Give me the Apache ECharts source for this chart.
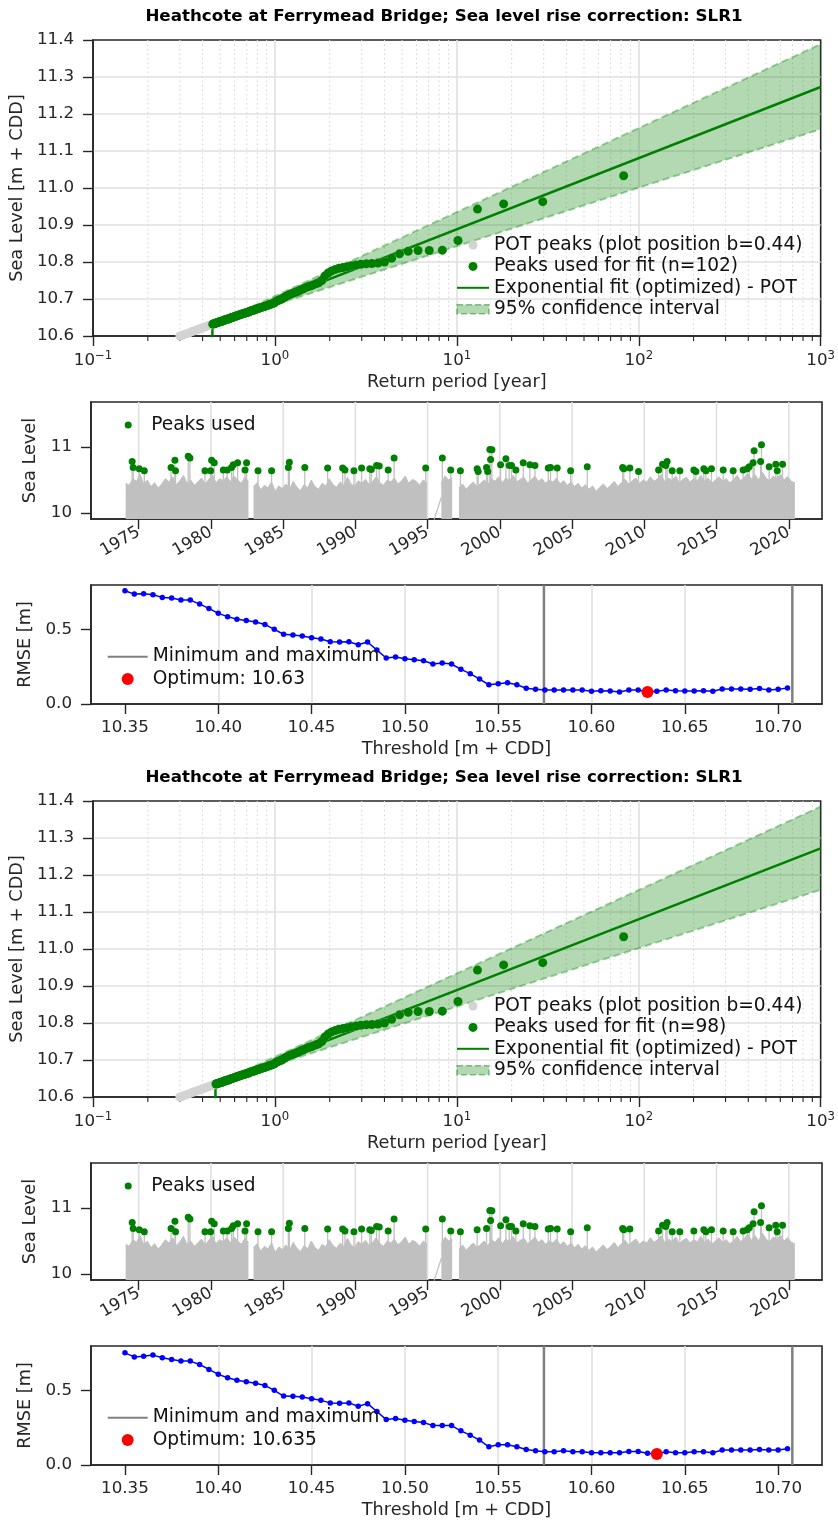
<!DOCTYPE html>
<html>
<head>
<meta charset="utf-8">
<title>Heathcote at Ferrymead Bridge</title>
<script src="https://cdn.jsdelivr.net/npm/echarts@6/dist/echarts.min.js"></script>
<style>
html, body { margin: 0; padding: 0; background: #fff; }
#Chart { width: 838px; height: 1524px; }
</style>
</head>
<body>
<div id="Chart"></div>
<script>
var Chart = echarts.init(document.getElementById('Chart'));

var FS = 16.7;       // tick labels
var FS_NAME = 17.7;  // axis titles
var FS_LEG = 18.6;   // legend text
var FONT = 'DejaVu Sans';
var INK = '#262626';
var GRIDC = '#e0e0e0';

var TITLE = 'Heathcote at Ferrymead Bridge; Sea level rise correction: SLR1';

// return period plot: peaks sorted by level (rank 1 = highest)
var RP_T = [82.6, 29.65, 18.07, 12.99, 10.14, 8.32, 7.05, 6.12, 5.40, 4.84,
    4.38, 4.00, 3.68, 3.41, 3.18, 2.97, 2.79, 2.63, 2.49, 2.37,
    2.25, 2.15, 2.05, 1.96, 1.88, 1.81, 1.74, 1.68, 1.62, 1.565,
    1.514, 1.466, 1.421, 1.378, 1.339, 1.301, 1.265, 1.232, 1.200, 1.169,
    1.141, 1.113, 1.087, 1.062, 1.038, 1.015, 0.994, 0.973, 0.953, 0.933,
    0.915, 0.897, 0.880, 0.864, 0.848, 0.833, 0.818, 0.804, 0.790, 0.777,
    0.764, 0.751, 0.739, 0.728, 0.717, 0.706, 0.695, 0.685, 0.675, 0.665,
    0.656, 0.646, 0.638, 0.629, 0.620, 0.612, 0.604, 0.596, 0.589, 0.581,
    0.574, 0.567, 0.560, 0.554, 0.547, 0.541, 0.534, 0.528, 0.522, 0.517,
    0.511, 0.505, 0.500, 0.494, 0.489, 0.484, 0.479, 0.474, 0.469, 0.465,
    0.460, 0.455];
var RP_LEVEL = [11.033, 10.963, 10.957, 10.943, 10.858, 10.832, 10.831, 10.831, 10.829, 10.822,
    10.810, 10.800, 10.797, 10.796, 10.795, 10.794, 10.792, 10.790, 10.787, 10.785,
    10.783, 10.780, 10.776, 10.770, 10.762, 10.750, 10.744, 10.741, 10.738, 10.735,
    10.733, 10.730, 10.727, 10.724, 10.721, 10.719, 10.716, 10.714, 10.712, 10.709,
    10.706, 10.703, 10.700, 10.698, 10.696, 10.694, 10.690, 10.688, 10.686, 10.685,
    10.683, 10.682, 10.680, 10.679, 10.678, 10.677, 10.675, 10.674, 10.673, 10.671,
    10.670, 10.669, 10.668, 10.667, 10.665, 10.664, 10.663, 10.662, 10.661, 10.660,
    10.659, 10.658, 10.657, 10.656, 10.655, 10.654, 10.653, 10.652, 10.651, 10.650,
    10.649, 10.648, 10.647, 10.646, 10.645, 10.645, 10.644, 10.643, 10.642, 10.641,
    10.640, 10.640, 10.639, 10.638, 10.637, 10.636, 10.636, 10.635, 10.634, 10.633,
    10.633, 10.632];
// POT peaks below the lowest threshold
var BELOW_T = [0.450, 0.440, 0.430, 0.420, 0.410, 0.400, 0.390, 0.380, 0.370,
    0.360, 0.350, 0.340, 0.330, 0.320, 0.310, 0.300, 0.290];
var BELOW_LEVEL = [10.631, 10.629, 10.628, 10.626, 10.624, 10.622, 10.620, 10.618, 10.616,
    10.614, 10.612, 10.609, 10.607, 10.605, 10.602, 10.600, 10.597];

var FIT1_T = [0.453, 0.453, 1000];
var FIT1_L = [10.50, 10.63, 11.273];
var CI1_T = [0.453, 1000];
var CI1_UP = [10.63, 11.389];
var CI1_LOW = [10.63, 11.159];

var FIT2_T = [0.471, 0.471, 1000];
var FIT2_L = [10.50, 10.635, 11.272];
var CI2_T = [0.471, 1000];
var CI2_UP = [10.635, 11.385];
var CI2_LOW = [10.635, 11.160];

var LOG_MINOR = [0.2, 0.3, 0.4, 0.5, 0.6, 0.7, 0.8, 0.9, 2, 3, 4, 5, 6, 7, 8, 9,
    20, 30, 40, 50, 60, 70, 80, 90, 200, 300, 400, 500, 600, 700, 800, 900];

// time series: peaks used
var PEAK_YEAR = [1974.55, 1974.62, 1975.04, 1975.39, 1977.24, 1977.51, 1977.55, 1978.43, 1978.55, 1979.59,
    1979.98, 1980.05, 1980.23, 1980.86, 1981.13, 1981.43, 1981.55, 1981.85, 1982.36, 1982.47,
    1983.26, 1984.20, 1985.36, 1985.43, 1986.50, 1988.08, 1989.12, 1989.28, 1989.90, 1990.43,
    1991.00, 1991.10, 1991.47, 1991.65, 1992.27, 1992.68, 1994.87, 1996.02, 1996.60, 1997.27,
    1998.43, 1998.50, 1999.08, 1999.16, 1999.31, 1999.36, 1999.45, 2000.05, 2000.42, 2000.65,
    2000.81, 2001.11, 2001.62, 2002.08, 2002.43, 2003.35, 2003.51, 2003.97, 2004.90, 2006.05,
    2008.50, 2008.58, 2009.00, 2009.60, 2010.99, 2011.26, 2011.49, 2011.58, 2011.93, 2012.46,
    2013.43, 2013.57, 2014.12, 2014.26, 2014.65, 2015.46, 2016.15, 2016.84, 2017.12, 2017.26,
    2017.53, 2017.60, 2018.05, 2018.11, 2018.64, 2019.10, 2019.20, 2019.57];
var PEAK_LEVEL = [10.78, 10.69, 10.67, 10.64, 10.69, 10.80, 10.64, 10.858, 10.832, 10.64,
    10.64, 10.80, 10.76, 10.65, 10.65, 10.69, 10.73, 10.76, 10.65, 10.76,
    10.64, 10.64, 10.69, 10.77, 10.69, 10.68, 10.68, 10.65, 10.64, 10.68,
    10.67, 10.66, 10.72, 10.71, 10.65, 10.831, 10.68, 10.831, 10.65, 10.64,
    10.67, 10.63, 10.69, 10.63, 10.963, 10.81, 10.957, 10.73, 10.822, 10.72,
    10.72, 10.65, 10.76, 10.73, 10.72, 10.68, 10.69, 10.68, 10.64, 10.70,
    10.69, 10.67, 10.68, 10.63, 10.65, 10.74, 10.72, 10.78, 10.64, 10.64,
    10.65, 10.63, 10.67, 10.64, 10.67, 10.65, 10.64, 10.65, 10.67, 10.70,
    10.76, 10.943, 10.78, 11.033, 10.70, 10.74, 10.64, 10.74];

// water level envelope, quarter-year samples per record segment
var FILL_STEP = 0.25;
var FILL_STARTS = [1974.10, 1982.95, 1995.95, 1997.17];
var FILL_A = [10.45, 10.42, 10.52, 10.48, 10.58, 10.44, 10.50, 10.40, 10.46, 10.38,
    10.44, 10.52, 10.47, 10.55, 10.43, 10.49, 10.57, 10.45, 10.50, 10.42,
    10.47, 10.53, 10.44, 10.51, 10.58, 10.46, 10.52, 10.49, 10.55, 10.47,
    10.56, 10.50, 10.45, 10.54, 10.48];
var FILL_B = [10.40, 10.46, 10.35, 10.42, 10.38, 10.47, 10.33, 10.41, 10.37, 10.44,
    10.36, 10.48, 10.39, 10.34, 10.43, 10.38, 10.50, 10.40, 10.36, 10.45,
    10.41, 10.52, 10.43, 10.39, 10.47, 10.42, 10.54, 10.44, 10.40, 10.49,
    10.45, 10.51, 10.43, 10.48, 10.55, 10.46, 10.42, 10.50, 10.47, 10.53,
    10.44, 10.49, 10.56, 10.45, 10.51, 10.48, 10.42, 10.50, 10.46];
var FILL_C = [10.45, 10.56, 10.50, 10.53];
var FILL_D = [10.38, 10.44, 10.36, 10.42, 10.47, 10.40, 10.45, 10.50, 10.43,
    10.52, 10.48, 10.55, 10.46, 10.53, 10.49, 10.57, 10.47, 10.51,
    10.54, 10.46, 10.50, 10.56, 10.48, 10.52, 10.45, 10.50, 10.47,
    10.53, 10.44, 10.49, 10.42, 10.47, 10.40, 10.45, 10.38, 10.43,
    10.36, 10.41, 10.33, 10.39, 10.44, 10.37, 10.42, 10.48, 10.40,
    10.46, 10.51, 10.44, 10.49, 10.53, 10.45, 10.50, 10.47, 10.55,
    10.48, 10.52, 10.58, 10.47, 10.53, 10.49, 10.56, 10.46, 10.51,
    10.54, 10.47, 10.52, 10.49, 10.57, 10.48, 10.53, 10.45, 10.50,
    10.55, 10.48, 10.52, 10.46, 10.50, 10.57, 10.49, 10.54, 10.60,
    10.51, 10.58, 10.50, 10.62, 10.53, 10.49, 10.56, 10.52, 10.59,
    10.50, 10.55, 10.48, 10.46];
var GAP_YEAR = [1995.30, 1995.97];
var GAP_LEVEL = [9.80, 10.25];
var STEM_BASE = 10.35;

var YEAR_TICKS = [1975, 1980, 1985, 1990, 1995, 2000, 2005, 2010, 2015, 2020];

// RMSE vs threshold
var RMSE_THR = [10.350, 10.355, 10.360, 10.365, 10.370, 10.375, 10.380, 10.385, 10.390, 10.395,
    10.400, 10.405, 10.410, 10.415, 10.420, 10.425, 10.430, 10.435, 10.440, 10.445,
    10.450, 10.455, 10.460, 10.465, 10.470, 10.475, 10.480, 10.485, 10.490, 10.495,
    10.500, 10.505, 10.510, 10.515, 10.520, 10.525, 10.530, 10.535, 10.540, 10.545,
    10.550, 10.555, 10.560, 10.565, 10.570, 10.575, 10.580, 10.585, 10.590, 10.595,
    10.600, 10.605, 10.610, 10.615, 10.620, 10.625, 10.630, 10.635, 10.640, 10.645,
    10.650, 10.655, 10.660, 10.665, 10.670, 10.675, 10.680, 10.685, 10.690, 10.695,
    10.700, 10.705];
var RMSE_1 = [0.759, 0.736, 0.738, 0.732, 0.714, 0.710, 0.696, 0.696, 0.669, 0.640,
    0.607, 0.585, 0.567, 0.560, 0.549, 0.533, 0.500, 0.467, 0.462, 0.455,
    0.444, 0.435, 0.417, 0.415, 0.417, 0.397, 0.415, 0.361, 0.308, 0.315,
    0.303, 0.297, 0.290, 0.268, 0.275, 0.268, 0.232, 0.203, 0.167, 0.129,
    0.136, 0.143, 0.129, 0.105, 0.098, 0.094, 0.094, 0.094, 0.094, 0.094,
    0.085, 0.089, 0.087, 0.080, 0.094, 0.094, 0.080, 0.085, 0.094, 0.089,
    0.087, 0.087, 0.089, 0.085, 0.100, 0.100, 0.100, 0.098, 0.103, 0.094,
    0.098, 0.107];
var RMSE_2 = [0.751, 0.724, 0.729, 0.736, 0.718, 0.707, 0.696, 0.696, 0.673, 0.640,
    0.607, 0.584, 0.567, 0.558, 0.547, 0.533, 0.500, 0.462, 0.460, 0.456,
    0.444, 0.433, 0.416, 0.413, 0.416, 0.393, 0.411, 0.358, 0.304, 0.311,
    0.300, 0.291, 0.284, 0.264, 0.264, 0.264, 0.229, 0.200, 0.167, 0.122,
    0.136, 0.136, 0.122, 0.104, 0.096, 0.089, 0.089, 0.096, 0.089, 0.089,
    0.082, 0.082, 0.082, 0.082, 0.091, 0.091, 0.078, 0.073, 0.089, 0.082,
    0.082, 0.089, 0.089, 0.082, 0.100, 0.100, 0.100, 0.100, 0.104, 0.100,
    0.100, 0.109];
var MINMAX_THR = [10.5745, 10.7076];
var RMSE_X_TICKS = [10.35, 10.40, 10.45, 10.50, 10.55, 10.60, 10.65, 10.70];

var SETS = [
    {used: 102, thr: 10.63, optLabel: 'Optimum: 10.63', opt: [10.63, 0.080], rmse: RMSE_1,
        fitT: FIT1_T, fitL: FIT1_L, ciT: CI1_T, ciUp: CI1_UP, ciLow: CI1_LOW},
    {used: 98, thr: 10.635, optLabel: 'Optimum: 10.635', opt: [10.635, 0.073], rmse: RMSE_2,
        fitT: FIT2_T, fitL: FIT2_L, ciT: CI2_T, ciUp: CI2_UP, ciLow: CI2_LOW}
];
var SET_OFFSET = 761;

function zip(a, b) {
    return a.map(function (v, i) { return [v, b[i]]; });
}

function fillData() {
    var segs = [FILL_A, FILL_B, FILL_C, FILL_D];
    var out = [];
    segs.forEach(function (vals, s) {
        vals.forEach(function (v, i) {
            out.push([FILL_STARTS[s] + i * FILL_STEP, v]);
        });
        out.push(['-', '-']);
    });
    return out;
}

function logLabel(v) {
    var e = Math.round(Math.log(v) / Math.LN10);
    return '{b|10}{e|' + (e < 0 ? '\u2212' + (-e) : e) + '}';
}
function fix1(v) { return v.toFixed(1); }
function fix2(v) { return v.toFixed(2); }
function plain(v) { return String(v); }

function tickOpt(custom) {
    var t = {show: true, length: 10, lineStyle: {color: INK, width: 1.4}};
    if (custom) t.customValues = custom;
    return t;
}
function labelOpt(margin, formatter, custom, more) {
    var l = {margin: margin, formatter: formatter, fontSize: FS, fontFamily: FONT, color: INK};
    if (custom) l.customValues = custom;
    for (var k in more) l[k] = more[k];
    return l;
}
function axis(gi, name, gap, label, tick, extra) {
    var a = {
        gridIndex: gi,
        name: name,
        nameLocation: 'middle',
        nameGap: gap,
        nameTextStyle: {fontSize: FS_NAME, fontFamily: FONT, color: INK},
        axisLine: {show: true, onZero: false, lineStyle: {color: INK, width: 1.6}},
        axisTick: tick,
        axisLabel: label,
        splitLine: {show: true, showMinLine: false, showMaxLine: false, lineStyle: {color: GRIDC, width: 1.6}}
    };
    for (var k in extra) a[k] = extra[k];
    return a;
}
function gridBox(top, h) {
    return {left: 91, top: top, width: 731, height: h, show: true,
        borderColor: INK, borderWidth: 1.6, backgroundColor: 'rgba(0,0,0,0)'};
}

// full-height vertical line at an x value (gridlines, min/max markers)
function vLine(color, width, dash, tickLen) {
    return function (params, api) {
        var p = api.coord([api.value(0), api.value(1)]);
        var cs = params.coordSys;
        var kids = [{type: 'line', shape: {x1: p[0], y1: cs.y, x2: p[0], y2: cs.y + cs.height},
            style: {stroke: color, lineWidth: width, lineDash: dash}}];
        if (tickLen) {
            kids.push({type: 'line', shape: {x1: p[0], y1: cs.y + cs.height, x2: p[0], y2: cs.y + cs.height + tickLen},
                style: {stroke: INK, lineWidth: 1.1}});
        }
        return {type: 'group', children: kids};
    };
}
function bandItem(t, up, low) {
    return function (params, api) {
        var pts = [];
        t.forEach(function (x, i) { pts.push(api.coord([x, up[i]])); });
        for (var i = t.length - 1; i >= 0; i--) pts.push(api.coord([t[i], low[i]]));
        return {type: 'polygon', shape: {points: pts}, style: {fill: 'rgba(0,128,0,0.3)'}};
    };
}
function stemItem(params, api) {
    var top = api.coord([api.value(0), api.value(1)]);
    var bot = api.coord([api.value(0), STEM_BASE]);
    return {type: 'line', shape: {x1: top[0], y1: top[1], x2: bot[0], y2: bot[1]},
        style: {stroke: '#c0c0c0', lineWidth: 1.3}};
}

var grids = [], xAxes = [], yAxes = [], series = [], legends = [], graphics = [];
var CI_EDGE = 'rgba(0,128,0,0.35)';
var POT_NAME = 'POT peaks (plot position b=0.44)';
var FIT_NAME = 'Exponential fit (optimized) - POT';
var CI_NAME = '95% confidence interval';
var LEG_TXT = {fontSize: FS_LEG, fontFamily: FONT, color: '#111'};

SETS.forEach(function (s, k) {
    var off = k * SET_OFFSET;
    var g = k * 3;
    var usedName = 'Peaks used for fit (n=' + s.used + ')';

    grids.push(gridBox(40 + off, 296), gridBox(402 + off, 117), gridBox(585 + off, 119));

    xAxes.push(axis(g, 'Return period [year]', 37,
        labelOpt(14, logLabel, null, {rich: {
            b: {fontSize: FS, fontFamily: FONT, color: INK, verticalAlign: 'bottom'},
            e: {fontSize: 11.7, fontFamily: FONT, color: INK, verticalAlign: 'bottom', padding: [0, 0, 7, 0]}
        }}),
        tickOpt(), {type: 'log', logBase: 10, min: 0.1, max: 1000}));
    yAxes.push(axis(g, 'Sea Level [m + CDD]', 62, labelOpt(19, fix1), tickOpt(),
        {type: 'value', min: 10.6, max: 11.4, interval: 0.1}));

    var tsX = axis(g + 1, '', 0, labelOpt(12, plain, YEAR_TICKS, {rotate: 30}), tickOpt(YEAR_TICKS),
        {type: 'value', min: 1971.7, max: 2022.3});
    tsX.splitLine = {show: false};
    xAxes.push(tsX);
    yAxes.push(axis(g + 1, 'Sea Level', 47, labelOpt(19, plain, [10, 11]), tickOpt([10, 11]),
        {type: 'value', min: 9.91, max: 11.68, splitNumber: 2}));

    xAxes.push(axis(g + 2, 'Threshold [m + CDD]', 36, labelOpt(15, fix2, RMSE_X_TICKS), tickOpt(RMSE_X_TICKS),
        {type: 'value', min: 10.3318, max: 10.7235, splitNumber: 8}));
    yAxes.push(axis(g + 2, 'RMSE [m]', 52, labelOpt(19, fix1, [0, 0.5]), tickOpt([0, 0.5]),
        {type: 'value', min: 0, max: 0.797, interval: 0.5}));

    // return period panel
    series.push({
        type: 'custom', xAxisIndex: g, yAxisIndex: g, silent: true, z: 1,
        data: LOG_MINOR.map(function (v) { return [v, 10.6]; }),
        renderItem: vLine('#d8d8d8', 1.1, [1.5, 3], 5)
    });
    series.push({
        name: CI_NAME, type: 'custom', xAxisIndex: g, yAxisIndex: g, silent: true, z: 2,
        itemStyle: {color: 'rgba(0,128,0,0.3)'},
        data: [[s.ciT[0], s.ciUp[0]]],
        renderItem: bandItem(s.ciT, s.ciUp, s.ciLow)
    });
    [s.ciUp, s.ciLow].forEach(function (edge, j) {
        series.push({
            name: 'ci-edge-' + k + '-' + j, type: 'line', xAxisIndex: g, yAxisIndex: g, z: 3,
            symbol: 'none', silent: true, data: zip(s.ciT, edge),
            lineStyle: {color: CI_EDGE, width: 2, type: [7, 4]}
        });
    });
    series.push({
        name: FIT_NAME, type: 'line', xAxisIndex: g, yAxisIndex: g, z: 4,
        symbol: 'none', clip: true, data: zip(s.fitT, s.fitL),
        itemStyle: {color: '#008000'}, lineStyle: {color: '#008000', width: 2.5}
    });
    series.push({
        name: POT_NAME, type: 'scatter', xAxisIndex: g, yAxisIndex: g, z: 5,
        symbolSize: 9, itemStyle: {color: '#d3d3d3', opacity: 1},
        data: zip(RP_T, RP_LEVEL).concat(zip(BELOW_T, BELOW_LEVEL))
    });
    series.push({
        name: usedName, type: 'scatter', xAxisIndex: g, yAxisIndex: g, z: 6,
        symbolSize: 9, itemStyle: {color: '#008000', opacity: 1},
        data: zip(RP_T, RP_LEVEL).slice(0, s.used)
    });

    // time series panel
    var peaks = zip(PEAK_YEAR, PEAK_LEVEL).filter(function (p) { return p[1] >= s.thr - 1e-9; });
    series.push({
        type: 'custom', xAxisIndex: g + 1, yAxisIndex: g + 1, silent: true, z: 1,
        data: YEAR_TICKS.map(function (y) { return [y, 10]; }),
        renderItem: vLine(GRIDC, 1.6, null, 0)
    });
    series.push({
        type: 'line', xAxisIndex: g + 1, yAxisIndex: g + 1, z: 2, silent: true,
        symbol: 'none', connectNulls: false, data: fillData(),
        lineStyle: {color: '#c0c0c0', width: 1},
        areaStyle: {color: '#c0c0c0', opacity: 1, origin: 'start'}
    });
    series.push({
        type: 'line', xAxisIndex: g + 1, yAxisIndex: g + 1, z: 2, silent: true,
        symbol: 'none', data: zip(GAP_YEAR, GAP_LEVEL),
        lineStyle: {color: '#c0c0c0', width: 1.2}
    });
    series.push({
        type: 'custom', xAxisIndex: g + 1, yAxisIndex: g + 1, z: 3, silent: true,
        data: peaks, renderItem: stemItem
    });
    series.push({
        name: 'Peaks used', type: 'scatter', xAxisIndex: g + 1, yAxisIndex: g + 1, z: 4,
        symbolSize: 7, itemStyle: {color: '#008000', opacity: 1}, data: peaks
    });

    // RMSE panel
    series.push({
        type: 'custom', xAxisIndex: g + 2, yAxisIndex: g + 2, silent: true, z: 2,
        data: MINMAX_THR.map(function (v) { return [v, 0]; }),
        renderItem: vLine('#808080', 2.5, null, 0)
    });
    series.push({
        name: 'Minimum and maximum', type: 'line', xAxisIndex: g + 2, yAxisIndex: g + 2, z: 2,
        data: [], symbol: 'none',
        itemStyle: {color: '#808080'}, lineStyle: {color: '#808080', width: 2.5}
    });
    series.push({
        type: 'line', xAxisIndex: g + 2, yAxisIndex: g + 2, z: 3,
        symbol: 'circle', symbolSize: 5.5, data: zip(RMSE_THR, s.rmse),
        itemStyle: {color: '#0000ff'}, lineStyle: {color: '#0000ff', width: 1.5}
    });
    series.push({
        name: s.optLabel, type: 'scatter', xAxisIndex: g + 2, yAxisIndex: g + 2, z: 4,
        symbolSize: 12, itemStyle: {color: '#ff0000', opacity: 1}, data: [s.opt]
    });

    // legends
    legends.push({
        orient: 'vertical', left: 456, top: 234.3 + off, padding: 0, itemGap: 0,
        itemWidth: 32, itemHeight: 9, selectedMode: false,
        textStyle: Object.assign({lineHeight: 21.4}, LEG_TXT),
        data: [
            {name: POT_NAME, icon: 'circle'},
            {name: usedName, icon: 'circle'},
            {name: FIT_NAME, itemStyle: {opacity: 0}},
            {name: CI_NAME, icon: 'rect', itemStyle: {color: 'rgba(0,128,0,0.3)',
                borderColor: 'rgba(0,128,0,0.45)', borderWidth: 1.5, borderType: 'dashed'}}
        ]
    });
    legends.push({
        orient: 'vertical', left: 124.7, top: 414.3 + off, padding: 0, itemGap: 0,
        itemWidth: 36, itemHeight: 7, selectedMode: false,
        textStyle: Object.assign({lineHeight: 21.4}, LEG_TXT),
        data: [{name: 'Peaks used', icon: 'circle'}]
    });
    legends.push({
        orient: 'vertical', left: 106.7, top: 645.5 + off, padding: 0, itemGap: 0,
        itemWidth: 40, itemHeight: 12, selectedMode: false,
        textStyle: Object.assign({lineHeight: 22.3}, LEG_TXT),
        data: [{name: 'Minimum and maximum', itemStyle: {opacity: 0}}, {name: s.optLabel, icon: 'circle'}]
    });

    graphics.push({
        type: 'text', x: 444, y: 17 + off, silent: true,
        style: {text: TITLE, fontSize: FS, fontWeight: 'bold', fontFamily: FONT,
            fill: '#000', align: 'center', verticalAlign: 'middle'}
    });
});

var ChartOption = {
    animation: false,
    backgroundColor: '#fff',
    grid: grids,
    xAxis: xAxes,
    yAxis: yAxes,
    legend: legends,
    graphic: graphics,
    series: series
};

Chart.setOption(ChartOption);
</script>
</body>
</html>
